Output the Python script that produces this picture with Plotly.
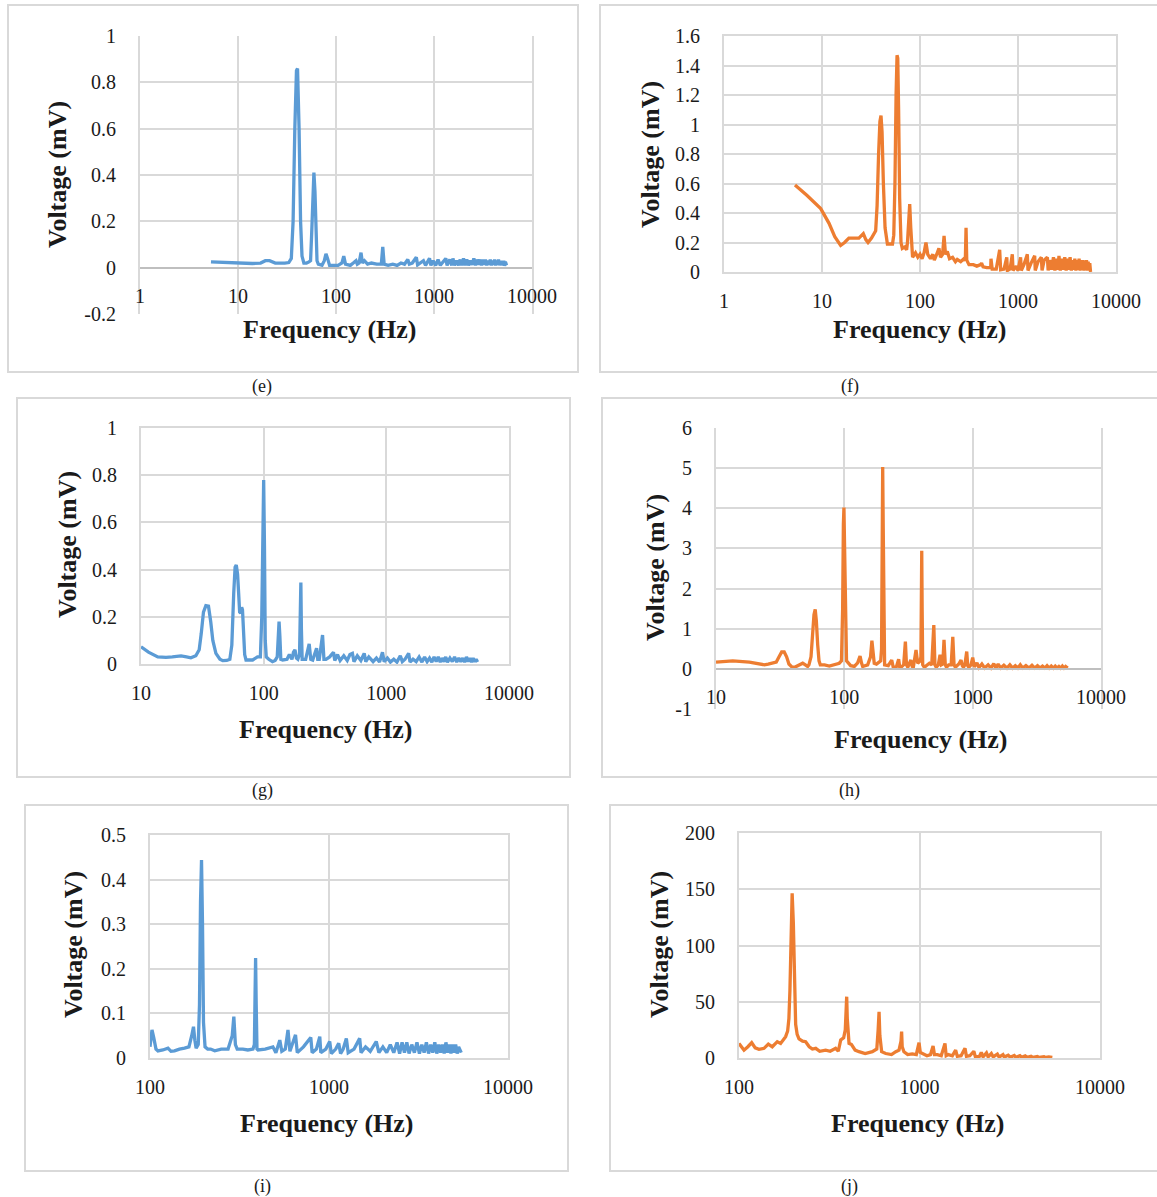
import plotly.graph_objects as go

W, H = 1157, 1197
BLUE = "#5b9bd5"
ORANGE = "#ed7d31"

# ---------------- data ----------------
e_freq = [5.3, 7, 10, 14, 17, 19, 21, 24, 30, 33, 35, 36.5, 38, 39.5, 40.5, 42, 43.5, 45, 47, 50, 53, 55, 56.5, 58, 59.5, 61, 62.5, 64, 66, 72, 76, 79, 82, 86, 95, 105, 115, 120, 125, 140, 150, 160, 165, 172, 180, 186, 195, 210, 230, 260, 290, 300, 310, 340, 380, 420, 460, 500, 540, 560, 600, 660, 680, 720, 780, 820, 900, 930, 980, 1040, 1100, 1160, 1250, 1320, 1360, 1450, 1520, 1560, 1620, 1700, 1780, 1850, 1920, 2000, 2080, 2160, 2250, 2350, 2450, 2550, 2650, 2750, 2850, 2950, 3050, 3150, 3250, 3350, 3450, 3550, 3650, 3750, 3850, 3950, 4050, 4150, 4250, 4350, 4450, 4550, 4650, 4750, 4850, 4950, 5050, 5150, 5250, 5350, 5500]
e_volt = [0.025, 0.023, 0.02, 0.018, 0.02, 0.03, 0.03, 0.02, 0.02, 0.022, 0.04, 0.2, 0.6, 0.85, 0.86, 0.6, 0.2, 0.05, 0.02, 0.02, 0.025, 0.03, 0.15, 0.35, 0.41, 0.33, 0.12, 0.03, 0.015, 0.01, 0.03, 0.06, 0.04, 0.01, 0.01, 0.01, 0.02, 0.05, 0.015, 0.01, 0.02, 0.03, 0.015, 0.02, 0.065, 0.02, 0.03, 0.015, 0.02, 0.015, 0.015, 0.09, 0.015, 0.01, 0.015, 0.01, 0.02, 0.015, 0.035, 0.015, 0.02, 0.045, 0.012, 0.02, 0.03, 0.01, 0.04, 0.01, 0.03, 0.01, 0.035, 0.01, 0.03, 0.04, 0.01, 0.035, 0.01, 0.04, 0.01, 0.03, 0.01, 0.035, 0.01, 0.04, 0.01, 0.035, 0.01, 0.03, 0.012, 0.04, 0.01, 0.035, 0.012, 0.035, 0.01, 0.035, 0.012, 0.035, 0.01, 0.03, 0.012, 0.035, 0.01, 0.03, 0.012, 0.035, 0.01, 0.03, 0.012, 0.035, 0.01, 0.03, 0.012, 0.03, 0.01, 0.03, 0.008, 0.025, 0.01]

f_freq = [5.3, 7, 9.7, 11.8, 13.5, 15.5, 17, 18.8, 21, 23.8, 26.4, 28, 29.5, 32, 35.3, 36.5, 37.8, 39, 40, 41, 42.3, 44, 46.5, 52.4, 54, 55.5, 57, 58.3, 59.3, 60.5, 62, 64, 66, 70, 73, 74.5, 76.5, 78.5, 80.5, 82, 84, 90, 95, 100, 105, 110, 115, 120, 128, 135, 140, 150, 156, 162, 170, 176, 182, 190, 200, 215, 230, 240, 260, 280, 290, 295, 300, 316, 350, 380, 416, 425, 440, 480, 527, 530, 545, 600, 650, 665, 720, 768, 780, 830, 875, 890, 960, 1000, 1063, 1080, 1150, 1245, 1265, 1360, 1480, 1500, 1600, 1730, 1760, 1850, 1995, 2030, 2100, 2200, 2300, 2380, 2460, 2540, 2620, 2700, 2800, 2900, 3000, 3100, 3200, 3300, 3400, 3500, 3600, 3700, 3800, 3900, 4000, 4100, 4200, 4300, 4400, 4500, 4600, 4700, 4800, 4900, 5000, 5100, 5200, 5300, 5400, 5500]
f_volt = [0.59, 0.52, 0.43, 0.33, 0.24, 0.18, 0.2, 0.23, 0.23, 0.23, 0.26, 0.22, 0.2, 0.23, 0.28, 0.45, 0.8, 1.02, 1.06, 0.95, 0.6, 0.3, 0.19, 0.19, 0.25, 0.6, 1.2, 1.47, 1.45, 1.1, 0.5, 0.2, 0.16, 0.17, 0.15, 0.2, 0.36, 0.46, 0.3, 0.15, 0.1, 0.13, 0.1, 0.12, 0.09, 0.13, 0.2, 0.12, 0.09, 0.12, 0.08, 0.13, 0.16, 0.1, 0.12, 0.245, 0.12, 0.14, 0.09, 0.1, 0.07, 0.085, 0.07, 0.09, 0.08, 0.3, 0.08, 0.05, 0.05, 0.04, 0.05, 0.06, 0.035, 0.03, 0.03, 0.09, 0.02, 0.02, 0.15, 0.015, 0.02, 0.1, 0.01, 0.02, 0.12, 0.01, 0.04, 0.01, 0.1, 0.01, 0.05, 0.12, 0.01, 0.06, 0.11, 0.01, 0.07, 0.1, 0.01, 0.08, 0.1, 0.01, 0.08, 0.015, 0.1, 0.01, 0.09, 0.015, 0.11, 0.01, 0.09, 0.015, 0.1, 0.01, 0.09, 0.015, 0.1, 0.01, 0.08, 0.015, 0.09, 0.01, 0.08, 0.015, 0.09, 0.01, 0.08, 0.015, 0.08, 0.01, 0.07, 0.015, 0.08, 0.01, 0.07, 0.01, 0.06, 0.0]

g_freq = [10, 11.5, 13.7, 16, 18, 21.2, 23.5, 25.5, 28, 29.8, 31, 32.3, 33.8, 35.5, 37, 38.5, 40.8, 44, 46.4, 50, 53, 55, 57, 58.5, 59.8, 61.3, 62.5, 63.7, 65, 66.2, 67.2, 68.5, 70, 71.8, 81.3, 89, 94, 96.5, 98.5, 100, 101.5, 103, 105, 110, 118, 124, 129, 131.5, 133.5, 135.5, 138, 143, 155, 162, 170, 175, 180, 185, 190, 196, 199, 201, 203, 206, 220, 235, 242, 251, 270, 276, 284, 302, 310, 322, 345, 371, 380, 400, 420, 450, 480, 505, 529, 545, 580, 620, 660, 680, 720, 780, 830, 880, 930, 960, 1020, 1080, 1150, 1220, 1300, 1350, 1420, 1520, 1560, 1650, 1750, 1850, 1950, 2050, 2150, 2250, 2350, 2450, 2550, 2650, 2750, 2850, 2950, 3050, 3150, 3300, 3450, 3600, 3750, 3900, 4050, 4200, 4350, 4500, 4650, 4800, 4950, 5100, 5250, 5400, 5546]
g_volt = [0.073, 0.05, 0.03, 0.028, 0.03, 0.034, 0.03, 0.026, 0.035, 0.06, 0.13, 0.22, 0.247, 0.245, 0.18, 0.1, 0.045, 0.02, 0.014, 0.015, 0.02, 0.08, 0.3, 0.41, 0.42, 0.38, 0.3, 0.22, 0.215, 0.24, 0.23, 0.12, 0.04, 0.017, 0.017, 0.03, 0.03, 0.2, 0.65, 0.78, 0.5, 0.1, 0.03, 0.02, 0.01, 0.015, 0.03, 0.1, 0.18, 0.12, 0.02, 0.017, 0.02, 0.04, 0.02, 0.05, 0.06, 0.025, 0.02, 0.04, 0.25, 0.345, 0.15, 0.02, 0.02, 0.085, 0.02, 0.017, 0.067, 0.02, 0.02, 0.123, 0.02, 0.02, 0.03, 0.05, 0.015, 0.04, 0.015, 0.035, 0.015, 0.04, 0.045, 0.01, 0.035, 0.015, 0.045, 0.01, 0.03, 0.01, 0.025, 0.008, 0.05, 0.01, 0.025, 0.008, 0.02, 0.008, 0.035, 0.01, 0.02, 0.045, 0.008, 0.02, 0.01, 0.03, 0.008, 0.03, 0.01, 0.025, 0.008, 0.03, 0.01, 0.03, 0.008, 0.025, 0.01, 0.03, 0.008, 0.025, 0.01, 0.03, 0.008, 0.025, 0.01, 0.025, 0.008, 0.03, 0.01, 0.025, 0.008, 0.025, 0.01, 0.02, 0.008]

h_freq = [10, 13.5, 18.2, 21, 23.8, 25.5, 27.5, 29.5, 31, 32.5, 34, 35.5, 37, 39, 41, 44, 47.4, 51.8, 53, 55, 56.5, 58, 59.3, 60.5, 62, 63.5, 65, 70, 76.4, 85, 91.3, 95, 97, 98.3, 99.3, 100.5, 102, 104, 112, 119.7, 127, 132.6, 136, 139, 152, 160, 164, 168, 171, 178, 184, 192, 195, 197, 199, 201, 203, 206, 220, 234, 240, 245, 255, 265, 270, 277, 290, 299, 305, 312, 330, 338, 345, 362, 373, 390, 395, 398, 401, 404, 408, 420, 440, 460, 480, 498, 508, 520, 540, 557, 570, 585, 598, 612, 625, 650, 680, 700, 716, 733, 780, 812, 830, 847, 870, 899, 915, 933, 970, 1001, 1030, 1080, 1120, 1180, 1240, 1320, 1390, 1460, 1520, 1580, 1650, 1750, 1850, 1950, 2050, 2150, 2250, 2350, 2450, 2600, 2750, 2900, 3050, 3200, 3350, 3500, 3650, 3800, 3950, 4100, 4250, 4400, 4550, 4700, 4850, 5000, 5150, 5300, 5505]
h_volt = [0.17, 0.2, 0.17, 0.14, 0.1, 0.12, 0.14, 0.17, 0.3, 0.42, 0.42, 0.3, 0.12, 0.05, 0.04, 0.08, 0.14, 0.06, 0.1, 0.3, 0.8, 1.35, 1.48, 1.2, 0.6, 0.2, 0.1, 0.1, 0.07, 0.1, 0.14, 0.2, 1.5, 3.6, 4.02, 3.0, 1.0, 0.2, 0.08, 0.06, 0.15, 0.32, 0.15, 0.06, 0.1, 0.3, 0.7, 0.3, 0.14, 0.12, 0.15, 0.2, 0.5, 3.0, 5.03, 3.5, 0.8, 0.1, 0.08, 0.22, 0.05, 0.04, 0.06, 0.24, 0.05, 0.04, 0.1, 0.68, 0.1, 0.04, 0.22, 0.06, 0.04, 0.47, 0.14, 0.2, 0.3, 1.8, 2.94, 1.5, 0.1, 0.04, 0.08, 0.14, 0.1, 1.09, 0.1, 0.04, 0.1, 0.35, 0.1, 0.12, 0.72, 0.1, 0.04, 0.1, 0.1, 0.8, 0.1, 0.04, 0.12, 0.22, 0.08, 0.04, 0.1, 0.43, 0.08, 0.04, 0.1, 0.28, 0.05, 0.15, 0.03, 0.12, 0.02, 0.1, 0.02, 0.13, 0.02, 0.12, 0.02, 0.09, 0.02, 0.1, 0.02, 0.08, 0.02, 0.1, 0.02, 0.08, 0.02, 0.09, 0.02, 0.08, 0.02, 0.07, 0.02, 0.08, 0.02, 0.07, 0.02, 0.07, 0.02, 0.06, 0.02, 0.07, 0.02, 0.06, 0.02]

i_freq = [100, 102.6, 105, 108, 110.8, 118, 126, 131, 137, 146, 156, 165, 171, 175, 178, 181, 186, 189, 191.5, 194, 196.5, 199, 203, 210, 218, 230, 250, 273, 288, 294, 300, 307, 330, 352, 376, 383, 386.5, 389, 392, 396, 401, 440, 486, 505, 531, 545, 570, 590, 605, 650, 665, 720, 791, 805, 850, 888, 900, 960, 1009, 1030, 1090, 1133, 1160, 1200, 1250, 1280, 1380, 1484, 1510, 1600, 1700, 1836, 1900, 2000, 2100, 2200, 2300, 2400, 2480, 2560, 2640, 2720, 2800, 2900, 3000, 3100, 3200, 3300, 3400, 3500, 3600, 3700, 3800, 3900, 4000, 4100, 4200, 4300, 4400, 4500, 4600, 4700, 4800, 4900, 5000, 5100, 5200, 5300, 5480]
i_volt = [0.025, 0.063, 0.045, 0.02, 0.016, 0.018, 0.022, 0.015, 0.016, 0.02, 0.022, 0.025, 0.05, 0.07, 0.04, 0.022, 0.03, 0.12, 0.35, 0.444, 0.3, 0.08, 0.025, 0.02, 0.02, 0.016, 0.02, 0.02, 0.05, 0.093, 0.03, 0.02, 0.02, 0.018, 0.02, 0.03, 0.15, 0.224, 0.12, 0.02, 0.018, 0.02, 0.025, 0.012, 0.04, 0.015, 0.02, 0.063, 0.015, 0.052, 0.012, 0.025, 0.046, 0.012, 0.02, 0.048, 0.012, 0.02, 0.037, 0.01, 0.02, 0.033, 0.01, 0.02, 0.044, 0.012, 0.02, 0.044, 0.012, 0.025, 0.015, 0.037, 0.012, 0.025, 0.012, 0.03, 0.012, 0.035, 0.01, 0.035, 0.012, 0.035, 0.01, 0.03, 0.012, 0.035, 0.01, 0.03, 0.012, 0.035, 0.01, 0.03, 0.012, 0.035, 0.01, 0.03, 0.012, 0.03, 0.01, 0.035, 0.012, 0.03, 0.01, 0.03, 0.012, 0.03, 0.01, 0.025, 0.012]

j_freq = [100, 106.6, 112, 117.6, 123, 129, 137.6, 145.4, 152.9, 158, 163, 170, 176, 181.3, 186, 189, 191.5, 194, 197, 200, 203, 206, 210, 215, 225, 234, 245, 255, 266, 280, 302, 320, 343, 355, 366, 380, 388, 392, 395, 398, 402, 407, 420, 440, 462, 500, 548, 580, 590, 597, 603, 617, 650, 700, 739, 770, 790, 796, 802, 820, 860, 912, 960, 994, 1010, 1037, 1100, 1150, 1189, 1210, 1256, 1320, 1384, 1405, 1445, 1520, 1586, 1620, 1700, 1787, 1820, 1900, 2000, 2040, 2150, 2200, 2250, 2350, 2400, 2500, 2560, 2700, 2760, 2900, 2950, 3100, 3180, 3350, 3420, 3600, 3680, 3850, 3950, 4150, 4250, 4500, 4600, 4900, 5000, 5200, 5445]
j_volt = [13, 7, 10, 13.6, 9, 7.7, 8.6, 12.4, 10, 12, 14.5, 13, 16, 19, 24, 35, 60, 115, 146.4, 120, 60, 30, 21, 17, 15, 14.5, 10, 8, 8.6, 6, 7, 6, 8.6, 6, 16, 18, 25, 42, 54.5, 35, 17, 13, 12, 7, 5.6, 4, 5.6, 8, 25, 41, 20, 5.6, 4, 3, 5.6, 7, 15, 23.4, 10, 5.6, 3, 3.6, 3, 13.6, 5, 4.2, 2, 3, 10.7, 3, 3, 2, 13, 2, 3, 2, 7, 1.5, 2, 8.6, 1.5, 2, 6, 1, 1.5, 5, 1, 4.5, 1, 4, 1, 3.5, 0.8, 3, 0.8, 2.5, 0.7, 2.2, 0.6, 2, 0.6, 1.8, 0.5, 1.5, 0.5, 1.3, 0.5, 1.1, 0.5, 1, 0.6]

# tick values / labels
x_ticks_1 = [1, 10, 100, 1000, 10000]
x_labels_1 = ["1", "10", "100", "1000", "10000"]
x_ticks_10 = [10, 100, 1000, 10000]
x_labels_10 = ["10", "100", "1000", "10000"]
x_ticks_100 = [100, 1000, 10000]
x_labels_100 = ["100", "1000", "10000"]
e_yticks = [-0.2, 0, 0.2, 0.4, 0.6, 0.8, 1]
e_ylabels = ["-0.2", "0", "0.2", "0.4", "0.6", "0.8", "1"]
f_yticks = [0, 0.2, 0.4, 0.6, 0.8, 1, 1.2, 1.4, 1.6]
f_ylabels = ["0", "0.2", "0.4", "0.6", "0.8", "1", "1.2", "1.4", "1.6"]
g_yticks = [0, 0.2, 0.4, 0.6, 0.8, 1]
g_ylabels = ["0", "0.2", "0.4", "0.6", "0.8", "1"]
h_yticks = [-1, 0, 1, 2, 3, 4, 5, 6]
h_ylabels = ["-1", "0", "1", "2", "3", "4", "5", "6"]
i_yticks = [0, 0.1, 0.2, 0.3, 0.4, 0.5]
i_ylabels = ["0", "0.1", "0.2", "0.3", "0.4", "0.5"]
j_yticks = [0, 50, 100, 150, 200]
j_ylabels = ["0", "50", "100", "150", "200"]

captions = ["(e)", "(f)", "(g)", "(h)", "(i)", "(j)"]
x_title = "Frequency (Hz)"
y_title = "Voltage (mV)"

# ---------------- layout helpers ----------------
def fx(p):
    return p / W

def fy(p):
    return 1 - p / H

FONT = "Liberation Serif, Times New Roman, serif"
GRID = "#d9d9d9"
TXT = "#1a1a1a"

panels = [
    dict(f=e_freq, v=e_volt, c=BLUE, plot=(140, 532, 36, 314), xr=(0, 4), yr=(-0.2, 1),
         xt=(x_ticks_1, x_labels_1), yt=(e_yticks, e_ylabels), zero=268,
         box=(8, 5, 578, 372), cap=(262, 386), xtl=(330, 329), ytl=(58, 175)),
    dict(f=f_freq, v=f_volt, c=ORANGE, plot=(724, 1116, 36, 272), xr=(0, 4), yr=(0, 1.6),
         xt=(x_ticks_1, x_labels_1), yt=(f_yticks, f_ylabels), zero=None,
         box=(600, 5, 1165, 372), cap=(850, 386), xtl=(920, 329), ytl=(651, 155)),
    dict(f=g_freq, v=g_volt, c=BLUE, plot=(141, 509, 428, 664), xr=(1, 4), yr=(0, 1),
         xt=(x_ticks_10, x_labels_10), yt=(g_yticks, g_ylabels), zero=None,
         box=(17, 398, 570, 777), cap=(262, 790), xtl=(326, 729), ytl=(67, 545)),
    dict(f=h_freq, v=h_volt, c=ORANGE, plot=(716, 1101, 428, 709), xr=(1, 4), yr=(-1, 6),
         xt=(x_ticks_10, x_labels_10), yt=(h_yticks, h_ylabels), zero=669,
         box=(602, 398, 1165, 777), cap=(850, 790), xtl=(921, 739), ytl=(655, 568)),
    dict(f=i_freq, v=i_volt, c=BLUE, plot=(150, 508, 835, 1058), xr=(2, 4), yr=(0, 0.5),
         xt=(x_ticks_100, x_labels_100), yt=(i_yticks, i_ylabels), zero=None,
         box=(25, 805, 568, 1171), cap=(262, 1186), xtl=(327, 1123), ytl=(73, 945)),
    dict(f=j_freq, v=j_volt, c=ORANGE, plot=(739, 1100, 833, 1058), xr=(2, 4), yr=(0, 200),
         xt=(x_ticks_100, x_labels_100), yt=(j_yticks, j_ylabels), zero=None,
         box=(610, 805, 1165, 1171), cap=(850, 1186), xtl=(918, 1123), ytl=(659, 945)),
]

fig = go.Figure()
layout = dict(
    width=W, height=H,
    margin=dict(l=0, r=0, t=0, b=0, pad=0, autoexpand=False),
    paper_bgcolor="white", plot_bgcolor="white", showlegend=False,
    font=dict(family=FONT, color=TXT),
)
shapes = []
annotations = []

for k, p in enumerate(panels):
    n = "" if k == 0 else str(k + 1)
    xa, ya = "xaxis" + n, "yaxis" + n
    x0, x1, y0, y1 = p["plot"]
    fig.add_trace(go.Scatter(x=p["f"], y=p["v"], mode="lines",
                             line=dict(color=p["c"], width=3.3),
                             xaxis="x" + n, yaxis="y" + n, hoverinfo="skip"))
    xdict = dict(
        type="log", range=list(p["xr"]), domain=[fx(x0), fx(x1)],
        tickmode="array", tickvals=p["xt"][0], ticktext=p["xt"][1],
        showgrid=True, gridcolor=GRID, gridwidth=2,
        ticks="", ticklabelstandoff=10, automargin=False,
        tickfont=dict(family=FONT, size=20, color=TXT),
        zeroline=False,
    )
    if p["zero"] is not None:
        xdict.update(anchor="free", position=fy(p["zero"]),
                     showline=True, linecolor="#bfbfbf", linewidth=2)
    else:
        xdict.update(anchor="y" + n, showline=True, linecolor=GRID, linewidth=2, mirror=True)
    ydict = dict(
        range=list(p["yr"]), domain=[fy(y1), fy(y0)], anchor="x" + n,
        tickmode="array", tickvals=p["yt"][0], ticktext=p["yt"][1],
        showgrid=True, gridcolor=GRID, gridwidth=2,
        showline=True, linecolor=GRID, linewidth=2, mirror=True,
        ticks="", ticklabelstandoff=18, automargin=False,
        tickfont=dict(family=FONT, size=20, color=TXT),
        zeroline=False,
    )
    layout[xa] = xdict
    layout[ya] = ydict

    bx0, by0, bx1, by1 = p["box"]
    shapes.append(dict(type="rect", xref="paper", yref="paper",
                       x0=fx(bx0), x1=fx(bx1), y0=fy(by1), y1=fy(by0),
                       line=dict(color=GRID, width=2), layer="below"))
    annotations.append(dict(text=captions[k], xref="paper", yref="paper",
                            x=fx(p["cap"][0]), y=fy(p["cap"][1]),
                            xanchor="center", yanchor="middle", showarrow=False,
                            font=dict(family=FONT, size=18, color=TXT)))
    annotations.append(dict(text="<b>" + x_title + "</b>", xref="paper", yref="paper",
                            x=fx(p["xtl"][0]), y=fy(p["xtl"][1]),
                            xanchor="center", yanchor="middle", showarrow=False,
                            font=dict(family=FONT, size=26, color=TXT)))
    annotations.append(dict(text="<b>" + y_title + "</b>", xref="paper", yref="paper",
                            x=fx(p["ytl"][0]), y=fy(p["ytl"][1]), textangle=-90,
                            xanchor="center", yanchor="middle", showarrow=False,
                            font=dict(family=FONT, size=26, color=TXT)))

layout["shapes"] = shapes
layout["annotations"] = annotations
fig.update_layout(**layout)
fig.write_html("out.html", config={"displayModeBar": False},
               post_script="document.body.style.margin='0';document.body.style.overflow='hidden';")
